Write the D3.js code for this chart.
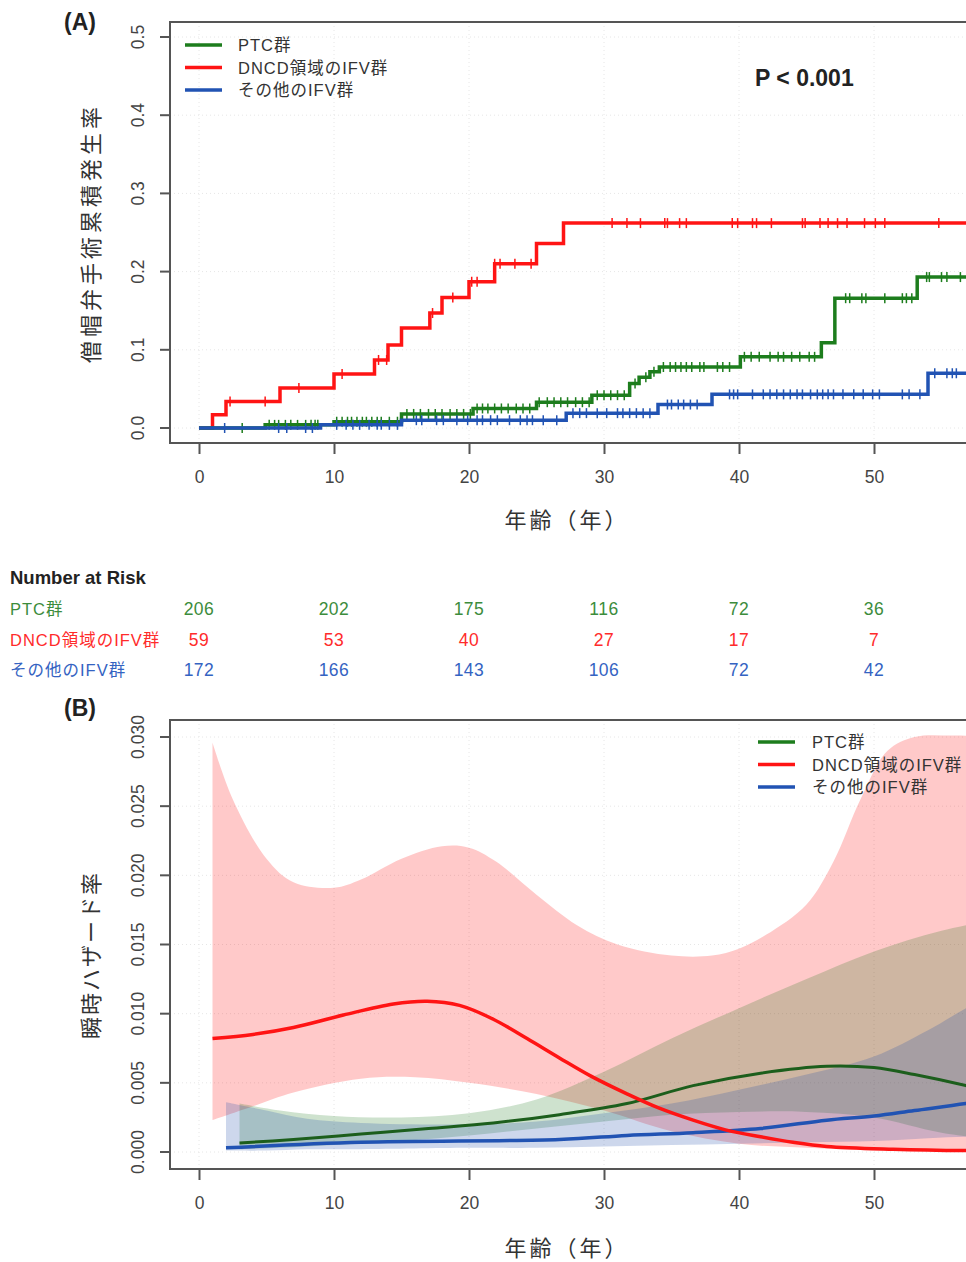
<!DOCTYPE html>
<html>
<head>
<meta charset="utf-8">
<script src="https://cdnjs.cloudflare.com/ajax/libs/d3/7.8.5/d3.min.js"></script>
<style>
  body { margin: 0; background: #fff; }
  text { font-family: "Liberation Sans", "Noto Sans CJK JP", sans-serif; }
</style>
</head>
<body>
<div class="container"></div>
<script>
// ---- data ----
const groups = ["PTC群", "DNCD領域のIFV群", "その他のIFV群"];
const colors = ["#1d7d1d", "#ff1414", "#2153b3"];
const riskColors = ["#3c8c3c", "#ff2b2b", "#3463c2"];

// (A) step curves: time of step, value after step
const greenStepT = [0, 4.9, 10.0, 15.0, 20.3, 25.0, 29.1, 31.9, 32.6, 33.4, 34.1, 40.1, 46.1, 47.1, 53.2];
const greenStepS = [0, 0.004, 0.008, 0.018, 0.025, 0.033, 0.042, 0.057, 0.065, 0.072, 0.078, 0.091, 0.109, 0.166, 0.193];
const redStepT = [0, 1.0, 2.0, 6.0, 10.0, 13.0, 14.0, 15.0, 17.1, 18.0, 20.0, 21.9, 25.0, 27.0];
const redStepS = [0, 0.017, 0.034, 0.051, 0.069, 0.087, 0.106, 0.128, 0.147, 0.167, 0.187, 0.210, 0.236, 0.262];
const blueStepT = [0, 9.0, 15.0, 27.2, 34.0, 38.0, 54.0];
const blueStepS = [0, 0.004, 0.010, 0.019, 0.030, 0.043, 0.070];

// censoring marks (ages)
const greenCens = [3.2, 5.2, 5.6, 5.9, 6.4, 6.8, 7.3, 7.9, 8.3, 8.6, 8.8, 10.2, 10.6, 11.0, 11.3, 11.7, 12.1, 12.4, 12.8, 13.2, 13.5,
  14.1, 14.7, 15.4, 15.9, 16.4, 17.0, 17.5, 18.0, 18.6, 19.1, 19.6, 20.1, 20.6, 21.0, 21.4, 21.9, 22.4, 22.9, 23.5, 24.0, 24.5,
  25.2, 25.8, 26.3, 26.8, 27.3, 27.9, 28.4, 28.9, 29.5, 30.0, 30.5, 31.0, 31.5, 32.3, 33.1, 33.7, 34.4, 34.9, 35.3, 35.7, 36.1,
  36.5, 37.1, 37.4, 38.4, 38.8, 39.3, 40.4, 40.9, 41.5, 42.3, 42.9, 43.3, 43.9, 44.5, 45.2, 45.6, 47.9, 48.2, 49.1, 49.4, 50.8,
  52.1, 52.4, 52.8, 53.9, 54.1, 55.0, 55.4, 56.4];
const redCens = [2.3, 4.9, 7.4, 10.6, 13.3, 13.9, 17.3, 18.8, 20.2, 20.6, 21.9, 22.3, 23.4, 24.6, 30.6, 31.7, 32.7, 34.5, 34.7,
  35.6, 36.1, 39.5, 39.9, 41.0, 41.3, 42.4, 44.7, 44.9, 46.0, 46.6, 47.3, 48.0, 49.3, 50.1, 50.8, 54.8];
const blueCens = [1.9, 5.9, 6.5, 7.9, 8.4, 10.2, 10.9, 11.4, 11.9, 12.6, 13.2, 13.5, 14.1, 14.7, 16.1, 16.5, 17.6, 18.1, 19.1,
  19.9, 20.6, 21.0, 21.6, 22.1, 23.0, 23.8, 24.3, 24.7, 25.5, 26.5, 27.7, 28.2, 28.7, 29.5, 30.2, 31.0, 31.4, 31.9, 32.4,
  32.9, 33.4, 34.7, 35.0, 35.5, 35.9, 36.4, 36.9, 39.3, 39.6, 39.9, 41.0, 41.8, 42.3, 42.8, 43.3, 43.8, 44.3, 44.7, 45.3,
  45.8, 46.2, 46.6, 47.0, 47.7, 48.5, 49.2, 49.9, 50.4, 52.1, 52.6, 53.4, 54.5, 55.4, 55.8, 56.1];

// number at risk
const riskAges = [0, 10, 20, 30, 40, 50];
const riskPTC = [206, 202, 175, 116, 72, 36];
const riskDNCD = [59, 53, 40, 27, 17, 7];
const riskOther = [172, 166, 143, 106, 72, 42];

// (B) hazard estimates and confidence bands
const redHazAge = [1, 4, 7, 10.7, 14.4, 16.9, 19.3, 21.8, 24.3, 26.7, 29, 31.7, 34, 36.6, 39, 41.6, 44, 46.5, 51.4, 57, 60];
const redHaz = [0.0082, 0.0085, 0.0090, 0.0099, 0.0107, 0.0109, 0.0106, 0.0096, 0.0082, 0.0068, 0.0055, 0.0042, 0.0032,
  0.0023, 0.0016, 0.0011, 0.0007, 0.0004, 0.0002, 0.0001, 0.0001];
const redUpAge = [1, 2.5, 5, 7, 10, 12, 15, 18, 20, 22, 25, 28, 31, 35, 38, 40, 42, 45, 47, 49, 51, 53, 56, 60];
const redUp = [0.0296, 0.0255, 0.0212, 0.0195, 0.0191, 0.0197, 0.0212, 0.0221, 0.0220, 0.0210, 0.0186, 0.0164, 0.0150,
  0.0142, 0.0142, 0.0147, 0.0157, 0.0179, 0.0210, 0.0255, 0.0290, 0.0300, 0.0301, 0.0300];
const redLoAge = [1, 4, 7, 12, 16, 20, 25, 30, 35, 40, 45, 50, 55, 60];
const redLo = [0.0023, 0.0033, 0.0043, 0.0053, 0.0054, 0.0050, 0.0042, 0.0030, 0.0015, 0.0006, 0.0003, 0.0001, 0.00005, 0.00002];

const greenHazAge = [3, 7, 12, 17, 21.8, 26.7, 31.7, 36.6, 41.6, 46.5, 50, 53, 56.8, 60];
const greenHaz = [0.00065, 0.0009, 0.0013, 0.0017, 0.0021, 0.0027, 0.0035, 0.0048, 0.0057, 0.0062, 0.0061, 0.0056, 0.0048, 0.0040];
const greenBandAge = [3, 6, 10, 15, 20, 25, 30, 35, 40, 45, 50, 55, 60];
const greenUp = [0.0035, 0.0030, 0.0026, 0.0025, 0.0028, 0.0038, 0.0058, 0.0082, 0.0104, 0.0125, 0.0145, 0.0160, 0.0170];
const greenLo = [0.0002, 0.0003, 0.0005, 0.0008, 0.0012, 0.0017, 0.0022, 0.0027, 0.0029, 0.0029, 0.0025, 0.0014, 0.0008];

const blueHazAge = [2, 12, 26.7, 31.7, 36.6, 41.6, 46.5, 50, 53, 56.8, 60];
const blueHaz = [0.0003, 0.0007, 0.0009, 0.0012, 0.0014, 0.0017, 0.0023, 0.0026, 0.0030, 0.0035, 0.0040];
const blueBandAge = [2, 5, 8, 12, 20, 25, 30, 35, 40, 45, 50, 54, 57, 60];
const blueUp = [0.0036, 0.0030, 0.0024, 0.0021, 0.0020, 0.0022, 0.0028, 0.0035, 0.0045, 0.0056, 0.0069, 0.0088, 0.0105, 0.0120];
const blueLo = [0.0001, 0.0001, 0.0002, 0.0002, 0.0003, 0.0003, 0.0004, 0.0005, 0.0006, 0.0007, 0.0008, 0.0010, 0.0011, 0.0012];

const xTicks = [0, 10, 20, 30, 40, 50];
const yTicksA = [0, 0.1, 0.2, 0.3, 0.4, 0.5];
const yTicksB = [0, 0.005, 0.010, 0.015, 0.020, 0.025, 0.030];

// ---- layout ----
const w = 966;
const h = 1262;
const boxLeft = 170;
const boxRight = 1045;

const svg = d3.select(".container").append("svg")
  .attr("width", w).attr("height", h);

const xScale = d3.scaleLinear().domain([0, 60]).range([199, 199 + 810]);
const yA = d3.scaleLinear().domain([0, 0.5]).range([428, 37]);
const yB = d3.scaleLinear().domain([0, 0.03]).range([1152, 737]);

const zip = (a, b) => a.map((v, i) => [v, b[i]]);

const drawFrame = (top, bottom, y, yTicks, fmt) => {
  // faint dotted grid
  const grid = svg.append("g").attr("stroke", "#e6e6e6").attr("stroke-dasharray", "1,3");
  grid.selectAll("line.v").data(xTicks).enter().append("line")
    .attr("x1", d => xScale(d)).attr("x2", d => xScale(d)).attr("y1", top).attr("y2", bottom);
  grid.selectAll("line.h").data(yTicks).enter().append("line")
    .attr("x1", boxLeft).attr("x2", boxRight).attr("y1", d => y(d)).attr("y2", d => y(d));

  svg.append("path")
    .attr("d", `M${boxRight},${top}H${boxLeft}V${bottom}H${boxRight}`)
    .attr("fill", "none").attr("stroke", "#555").attr("stroke-width", 2);

  const xAxis = d3.axisBottom(xScale).tickValues(xTicks).tickSize(11).tickSizeOuter(0).tickPadding(17);
  const gx = svg.append("g").attr("transform", `translate(0,${bottom})`).call(xAxis);
  gx.select(".domain").remove();
  gx.selectAll("line").attr("stroke", "#555").attr("stroke-width", 2);
  gx.selectAll("text").attr("font-size", 17.5).attr("fill", "#444").attr("font-family", "Liberation Sans");

  const yAxis = d3.axisLeft(y).tickValues(yTicks).tickFormat(fmt).tickSize(10).tickSizeOuter(0);
  const gy = svg.append("g").attr("transform", `translate(${boxLeft},0)`).call(yAxis);
  gy.select(".domain").remove();
  gy.selectAll("line").attr("stroke", "#555").attr("stroke-width", 2);
  gy.selectAll("text")
    .attr("font-size", 17.5).attr("fill", "#444")
    .attr("x", 0).attr("dy", null)
    .attr("text-anchor", "middle")
    .attr("transform", d => `translate(-32,${y(d)}) rotate(-90)`)
    .attr("y", 6);
  gy.selectAll(".tick").attr("transform", null);
  gy.selectAll(".tick line").attr("y1", d => y(d)).attr("y2", d => y(d));
};

const clipRect = (id, top, bottom) => {
  svg.append("clipPath").attr("id", id).append("rect")
    .attr("x", boxLeft + 1).attr("y", top + 1).attr("width", boxRight - boxLeft).attr("height", bottom - top - 2);
};

// ---- panel A ----
drawFrame(22, 443, yA, yTicksA, d3.format(".1f"));
clipRect("clipA", 22, 443);

const stepAt = (T, S, t) => S[d3.bisectRight(T, t) - 1];
const stepLine = d3.line().x(d => xScale(d[0])).y(d => yA(d[1])).curve(d3.curveStepAfter);

const curvesA = [
  { T: redStepT, S: redStepS, cens: redCens, c: colors[1], end: 60 },
  { T: greenStepT, S: greenStepS, cens: greenCens, c: colors[0], end: 60 },
  { T: blueStepT, S: blueStepS, cens: blueCens, c: colors[2], end: 60 }
];
const gA = svg.append("g").attr("clip-path", "url(#clipA)");
curvesA.forEach(cv => {
  const pts = zip(cv.T, cv.S).concat([[cv.end, cv.S[cv.S.length - 1]]]);
  gA.append("path").attr("d", stepLine(pts))
    .attr("fill", "none").attr("stroke", cv.c).attr("stroke-width", 3.5);
  gA.selectAll(null).data(cv.cens).enter().append("line")
    .attr("x1", d => xScale(d)).attr("x2", d => xScale(d))
    .attr("y1", d => yA(stepAt(cv.T, cv.S, d)) - 5)
    .attr("y2", d => yA(stepAt(cv.T, cv.S, d)) + 5)
    .attr("stroke", cv.c).attr("stroke-width", 1.5);
});

// legend A
const legA = svg.append("g");
groups.forEach((g, i) => {
  legA.append("line").attr("x1", 185).attr("x2", 222).attr("y1", 45 + i * 22.5).attr("y2", 45 + i * 22.5)
    .attr("stroke", colors[i]).attr("stroke-width", 3.5);
  legA.append("text").attr("x", 238).attr("y", 51 + i * 22.5).attr("font-size", 16.5)
    .attr("letter-spacing", 1).attr("fill", "#333").text(g);
});

svg.append("text").attr("x", 755).attr("y", 86).attr("font-size", 23).attr("font-weight", "bold")
  .attr("fill", "#222").text("P < 0.001");
svg.append("text").attr("x", 80).attr("y", 30).attr("text-anchor", "middle").attr("font-size", 23)
  .attr("font-weight", "bold").attr("fill", "#222").text("(A)");
svg.append("text").attr("transform", "translate(99,233) rotate(-90)").attr("text-anchor", "middle")
  .attr("font-size", 22).attr("letter-spacing", 4).attr("fill", "#333").text("僧帽弁手術累積発生率");
svg.append("text").attr("x", 567).attr("y", 528).attr("text-anchor", "middle")
  .attr("font-size", 22).attr("letter-spacing", 3).attr("fill", "#333").text("年齢（年）");

// ---- number at risk ----
svg.append("text").attr("x", 10).attr("y", 584).attr("font-size", 18.5).attr("font-weight", "bold")
  .attr("fill", "#222").text("Number at Risk");
[riskPTC, riskDNCD, riskOther].forEach((row, i) => {
  const yy = 615 + i * 30.5;
  svg.append("text").attr("x", 10).attr("y", yy).attr("font-size", 16.5).attr("letter-spacing", 1)
    .attr("fill", riskColors[i]).text(groups[i]);
  svg.selectAll(null).data(row).enter().append("text")
    .attr("x", (d, j) => xScale(riskAges[j])).attr("y", yy)
    .attr("text-anchor", "middle").attr("font-size", 17.5).attr("letter-spacing", 0.5)
    .attr("fill", riskColors[i]).text(d => d);
});

// ---- panel B ----
drawFrame(720, 1169, yB, yTicksB, d3.format(".3f"));
clipRect("clipB", 720, 1169);
const gB = svg.append("g").attr("clip-path", "url(#clipB)");

const smooth = d3.curveCatmullRom.alpha(0.5);
const bandPath = (upAge, up, loAge, lo) => {
  const ln = d3.line().x(d => xScale(d[0])).y(d => yB(d[1])).curve(smooth);
  const top = ln(zip(upAge, up));
  const bot = ln(zip(loAge, lo).reverse());
  return top + "L" + bot.slice(1) + "Z";
};

gB.append("path").attr("d", bandPath(redUpAge, redUp, redLoAge, redLo))
  .attr("fill", "#ff0000").attr("fill-opacity", 0.21);
gB.append("path").attr("d", bandPath(greenBandAge, greenUp, greenBandAge, greenLo))
  .attr("fill", "#0a6e0a").attr("fill-opacity", 0.2);
gB.append("path").attr("d", bandPath(blueBandAge, blueUp, blueBandAge, blueLo))
  .attr("fill", "#1a4aaa").attr("fill-opacity", 0.22);

const hazLine = d3.line().x(d => xScale(d[0])).y(d => yB(d[1])).curve(smooth);
gB.append("path").attr("d", hazLine(zip(greenHazAge, greenHaz)))
  .attr("fill", "none").attr("stroke", "#1c5e1c").attr("stroke-width", 3);
gB.append("path").attr("d", hazLine(zip(blueHazAge, blueHaz)))
  .attr("fill", "none").attr("stroke", colors[2]).attr("stroke-width", 3.5);
gB.append("path").attr("d", hazLine(zip(redHazAge, redHaz)))
  .attr("fill", "none").attr("stroke", colors[1]).attr("stroke-width", 3.5);

// legend B
const legB = svg.append("g");
groups.forEach((g, i) => {
  legB.append("line").attr("x1", 758).attr("x2", 795).attr("y1", 742 + i * 22.5).attr("y2", 742 + i * 22.5)
    .attr("stroke", colors[i]).attr("stroke-width", 3.5);
  legB.append("text").attr("x", 812).attr("y", 748 + i * 22.5).attr("font-size", 16.5)
    .attr("letter-spacing", 1).attr("fill", "#333").text(g);
});

svg.append("text").attr("x", 80).attr("y", 716).attr("text-anchor", "middle").attr("font-size", 23)
  .attr("font-weight", "bold").attr("fill", "#222").text("(B)");
svg.append("text").attr("transform", "translate(99,955) rotate(-90)").attr("text-anchor", "middle")
  .attr("font-size", 22).attr("letter-spacing", 2).attr("fill", "#333").text("瞬時ハザード率");
svg.append("text").attr("x", 567).attr("y", 1256).attr("text-anchor", "middle")
  .attr("font-size", 22).attr("letter-spacing", 3).attr("fill", "#333").text("年齢（年）");
</script>
</body>
</html>
